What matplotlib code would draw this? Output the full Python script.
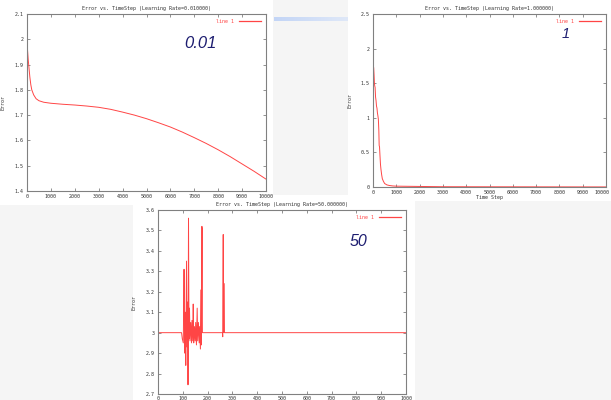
import matplotlib
matplotlib.use("Agg")
import numpy as np
import matplotlib.pyplot as plt
from matplotlib.patches import Rectangle
from matplotlib.lines import Line2D
from matplotlib.ticker import FuncFormatter
from matplotlib.transforms import ScaledTranslation

# learning rate 0.01
steps_a = [0, 20, 50, 80, 120, 160, 200, 280, 380, 500, 700, 1000, 1500, 2000, 2500,
           3000, 3500, 4000, 4500, 5000, 5500, 6000, 6500, 7000, 7500, 8000, 8500,
           9000, 9500, 10000]
err_a = [2.0, 1.96, 1.92, 1.89, 1.85, 1.82, 1.80, 1.78, 1.765, 1.757, 1.751, 1.747,
         1.743, 1.740, 1.736, 1.731, 1.723, 1.712, 1.700, 1.686, 1.670, 1.653, 1.633,
         1.611, 1.588, 1.563, 1.536, 1.507, 1.478, 1.447]

# learning rate 1
steps_b = [0, 5, 15, 30, 45, 60, 75, 90, 110, 130, 150, 170, 190, 210, 230, 250, 265,
           280, 300, 320, 340, 370, 400, 450, 500, 600, 700, 850, 1000, 1500, 2000,
           2500, 3000, 5000, 7500, 10000]
err_b = [2.13, 1.88, 1.75, 1.72, 1.62, 1.50, 1.46, 1.44, 1.30, 1.25, 1.17, 1.14, 1.07,
         1.03, 0.98, 0.82, 0.60, 0.58, 0.45, 0.33, 0.26, 0.18, 0.12, 0.08, 0.05, 0.03,
         0.022, 0.015, 0.012, 0.010, 0.008, 0.006, 0.004, 0.003, 0.002, 0.001]

# learning rate 50
steps_c = [0, 1, 2, 95, 98, 102, 105, 106, 108, 110, 112, 115, 117, 120, 121, 123, 125,
           127, 129, 132, 135, 137, 140, 142, 144, 147, 150, 152, 155, 158, 160, 163,
           166, 168, 171, 174, 175, 177, 178, 179, 260, 261, 263, 264, 267, 268, 1000]
err_c = [3.0, 3.52, 3.0, 3.0, 2.97, 2.95, 3.31, 3.15, 2.90, 3.10, 2.84, 3.35, 2.93,
         3.15, 2.745, 3.56, 2.97, 3.12, 2.96, 3.05, 2.95, 3.06, 2.96, 3.14, 2.95, 3.03,
         2.96, 3.05, 2.94, 3.12, 2.96, 3.05, 2.95, 3.03, 2.92, 3.21, 2.94, 3.52, 3.51,
         3.0, 3.0, 2.98, 3.48, 3.0, 3.24, 3.0, 3.0]

W, H = 611, 400
fig = plt.figure(figsize=(W / 100, H / 100), dpi=100, facecolor="#f5f5f5")


def box(l, t, r, b):
    return [l / W, 1 - b / H, (r - l) / W, (b - t) / H]


def panel(l, t, r, b):
    x0, y0, w, h = box(l, t, r, b)
    fig.add_artist(Rectangle((x0, y0), w, h, transform=fig.transFigure,
                             facecolor="white", edgecolor="none", zorder=0))


panel(0, 0, 273, 205)
panel(348, 0, 611, 201)
panel(133, 195, 415, 400)

# light blue connector bar
bar = fig.add_axes(box(274, 17, 348, 21))
bar.imshow(np.linspace(0, 1, 100)[None, :], aspect="auto",
           cmap=matplotlib.colors.LinearSegmentedColormap.from_list("b", ["#c3d5f6", "#dfe8f8"]))
bar.axis("off")

mono = "DejaVu Sans Mono"
fs = 3.6
gray = "#808080"
red = "#ff4545"
fmt = FuncFormatter(lambda v, p: "%g" % round(v, 4))


def setup(ax, title, xlim, ylim, xt, yt, ylab_x, xpad=2.5):
    ax.set_xlim(*xlim)
    ax.set_ylim(*ylim)
    ax.set_xticks(xt)
    ax.set_yticks(yt)
    ax.yaxis.set_major_formatter(fmt)
    ax.xaxis.set_major_formatter(fmt)
    ax.tick_params(direction="in", length=2.5, width=0.6, color=gray, labelsize=fs,
                   top=True, right=True, pad=2.5, labelcolor="#333333")
    ax.tick_params(axis="x", pad=xpad)
    for lab in ax.get_xticklabels() + ax.get_yticklabels():
        lab.set_family(mono)
    for s in ax.spines.values():
        s.set_color(gray)
        s.set_linewidth(0.8)
    ax.set_title(title, fontsize=fs, family=mono, color="#333333", pad=3)
    ax.set_ylabel("Error", fontsize=fs, family=mono, color="#333333")
    ax.yaxis.set_label_coords(ylab_x, 0.5)
    key = Line2D([], [], color=red, lw=0.9)
    ax.legend(handles=[key], labels=["line 1"], loc="upper right", frameon=False,
              markerfirst=False, prop={"family": mono, "size": fs}, labelcolor=red,
              handlelength=4.5, borderaxespad=0.6)


line_kw = dict(color=red, lw=0.7)

ax1 = fig.add_axes(box(27, 14, 266, 191))
ax1.plot(steps_a, err_a, **line_kw)
setup(ax1, "Error vs. TimeStep (Learning Rate=0.010000)", (0, 10000), (1.4, 2.1),
      range(0, 10001, 1000), np.arange(1.4, 2.11, 0.1), -0.092)

ax2 = fig.add_axes(box(373, 14, 606, 187))
ax2.plot(steps_b, err_b, **line_kw)
setup(ax2, "Error vs. TimeStep (Learning Rate=1.000000)", (0, 10000), (0, 2.5),
      range(0, 10001, 1000), np.arange(0, 2.51, 0.5), -0.086)
ax2.set_xlabel("Time Step", fontsize=fs, family=mono, color="#333333")
ax2.xaxis.set_label_coords(0.5, -0.045)
# nudge the last label so it stays inside the picture
last = ax2.xaxis.get_major_ticks()[-1].label1
last.set_transform(last.get_transform() + ScaledTranslation(-4 / 100, 0, fig.dpi_scale_trans))

ax3 = fig.add_axes(box(158, 210, 406, 394))
ax3.plot(steps_c, err_c, **line_kw)
setup(ax3, "Error vs. TimeStep (Learning Rate=50.000000)", (0, 1000), (2.7, 3.6),
      range(0, 1001, 100), np.arange(2.7, 3.61, 0.1), -0.085, xpad=1.2)

navy = "#1d1d70"
big = dict(family="Liberation Sans", style="italic", color=navy, ha="center", va="center")
fig.text(200 / W, 1 - 44 / H, "0.01", fontsize=12, **big)
fig.text(566 / W, 1 - 34 / H, "1", fontsize=10.5, **big)
fig.text(359 / W, 1 - 242 / H, "50", fontsize=11.5, **big)

fig.savefig("out.png", dpi=100, facecolor=fig.get_facecolor())
